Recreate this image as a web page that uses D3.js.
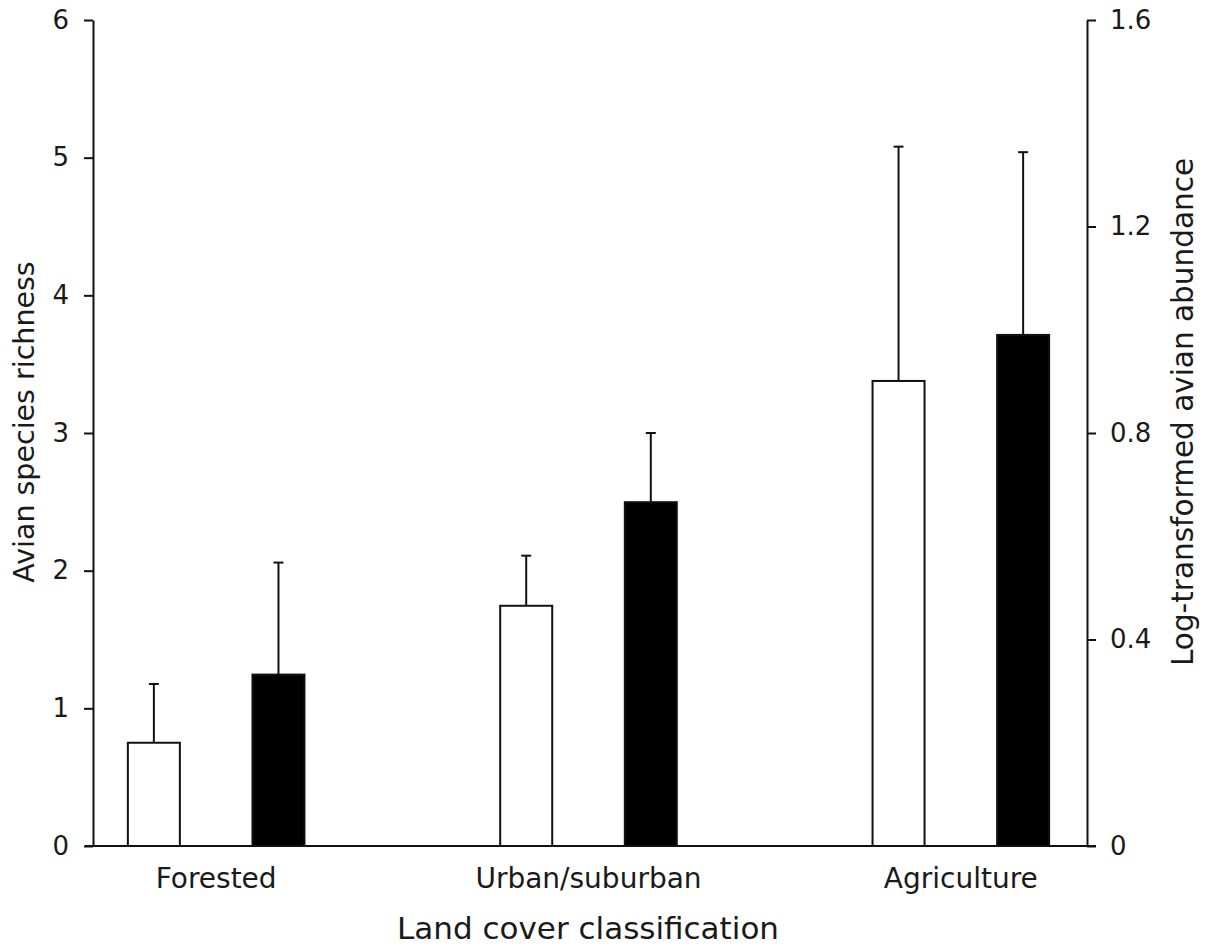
<!DOCTYPE html>
<html>
<head>
<meta charset="utf-8">
<script src="https://cdn.jsdelivr.net/npm/d3@7"></script>
<style>
html,body{margin:0;padding:0;background:#fff;}
svg text{font-family:"DejaVu Sans",Verdana,sans-serif;fill:#1a1a1a;}
</style>
</head>
<body>
<svg id="chart" width="1219" height="950"></svg>
<script>
// ---- data ----
const categories = ["Forested", "Urban/suburban", "Agriculture"];
const series = ["richness", "abundance"];
const richnessMean = [0.75, 1.745, 3.378];
const richnessUpper = [1.177, 2.109, 5.08];
const abundanceMean = [0.332, 0.666, 0.990];
const abundanceUpper = [0.549, 0.800, 1.344];
const leftTicks = [0, 1, 2, 3, 4, 5, 6];
const rightTicks = [0, 0.4, 0.8, 1.2, 1.6];
const xTitle = "Land cover classification";
const leftTitle = "Avian species richness";
const rightTitle = "Log-transformed avian abundance";

const svg = d3.select("#chart");
const xLeft = 93, xRight = 1087, yTop = 20, yBase = 846;

const yL = d3.scaleLinear().domain([0, 6]).range([yBase, yTop]);
const yR = d3.scaleLinear().domain([0, 1.6]).range([yBase, yTop]);
const xG = d3.scaleBand().domain(categories).range([30, 1147]).padding(0);
const xS = d3.scalePoint().domain(series).range([-62.3, 62.3]);
const barW = 52;

const rows = categories.map((c, i) => ({
  cat: c,
  richness: {v: richnessMean[i], up: richnessUpper[i]},
  abundance: {v: abundanceMean[i], up: abundanceUpper[i]}
}));

const cx = (c, s) => xG(c) + xG.bandwidth() / 2 + xS(s);
const scaleFor = s => s === "richness" ? yL : yR;
const fillFor = s => s === "richness" ? "#fff" : "#000";

const marks = [];
rows.forEach(r => series.forEach(s => marks.push({cat: r.cat, s, v: r[s].v, up: r[s].up})));

// error bars
const eb = svg.append("g").attr("stroke", "#111").attr("stroke-width", 2);
marks.forEach(m => {
  const y = scaleFor(m.s);
  const x = cx(m.cat, m.s);
  eb.append("line").attr("x1", x).attr("x2", x).attr("y1", y(m.v)).attr("y2", y(m.up));
  eb.append("line").attr("x1", x - 5).attr("x2", x + 5).attr("y1", y(m.up)).attr("y2", y(m.up));
});

// bars
svg.append("g").selectAll("rect").data(marks).join("rect")
  .attr("x", d => cx(d.cat, d.s) - barW / 2)
  .attr("y", d => scaleFor(d.s)(d.v))
  .attr("width", barW)
  .attr("height", d => yBase - scaleFor(d.s)(d.v))
  .attr("fill", d => fillFor(d.s))
  .attr("stroke", "#111").attr("stroke-width", 2);

// baseline
svg.append("line").attr("x1", xLeft - 8).attr("x2", xRight + 9)
  .attr("y1", yBase).attr("y2", yBase).attr("stroke", "#111").attr("stroke-width", 2);

// left axis
const gL = svg.append("g").attr("transform", `translate(${xLeft},0)`)
  .call(d3.axisLeft(yL).tickValues(leftTicks).tickSize(9).tickSizeOuter(0).tickPadding(15).tickFormat(d3.format("d")));
gL.select(".domain").attr("stroke", "#111").attr("stroke-width", 2);
gL.selectAll(".tick line").attr("stroke", "#111").attr("stroke-width", 2);
gL.selectAll(".tick text").attr("font-size", 26).attr("font-family", "DejaVu Sans").attr("fill", "#1a1a1a");

// right axis
const gR = svg.append("g").attr("transform", `translate(${xRight},0)`)
  .call(d3.axisRight(yR).tickValues(rightTicks).tickSize(9).tickSizeOuter(0).tickPadding(14)
    .tickFormat(d => d === 0 ? "0" : d3.format(".1f")(d)));
gR.select(".domain").attr("stroke", "#111").attr("stroke-width", 2);
gR.selectAll(".tick line").attr("stroke", "#111").attr("stroke-width", 2);
gR.selectAll(".tick text").attr("font-size", 26).attr("font-family", "DejaVu Sans").attr("fill", "#1a1a1a");

// category labels
svg.append("g").selectAll("text").data(categories).join("text")
  .attr("x", d => xG(d) + xG.bandwidth() / 2)
  .attr("y", 888)
  .attr("text-anchor", "middle")
  .attr("font-size", 28)
  .text(d => d);

// axis titles
svg.append("text").attr("x", 588).attr("y", 939).attr("text-anchor", "middle")
  .attr("font-size", 31).text(xTitle);
svg.append("text").attr("transform", "translate(34,422) rotate(-90)").attr("text-anchor", "middle")
  .attr("font-size", 28.5).text(leftTitle);
svg.append("text").attr("transform", "translate(1193,412) rotate(-90)").attr("text-anchor", "middle")
  .attr("font-size", 29.5).text(rightTitle);
</script>
</body>
</html>
